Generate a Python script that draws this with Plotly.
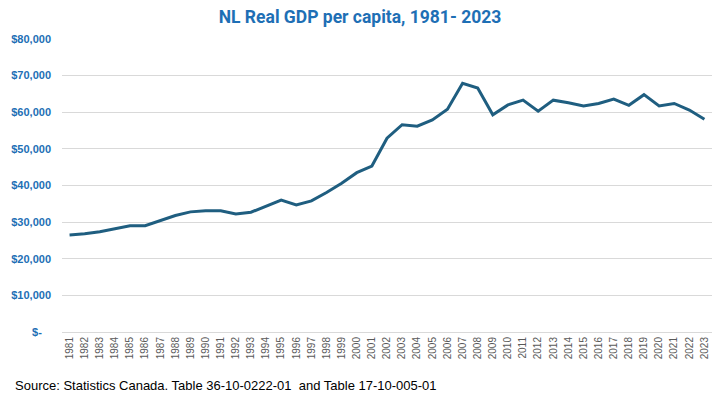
import plotly.graph_objects as go

years = [str(y) for y in range(1981, 2024)]
gdp_per_capita = [
    26500, 26800, 27400, 28200, 29000, 29000, 30300, 31800, 32800, 33100,
    33100, 32200, 32700, 34300, 36000, 34700, 35800, 38100, 40600, 43500,
    45300, 52900, 56600, 56200, 57900, 60800, 67900, 66600, 59300, 62000,
    63300, 60300, 63300, 62600, 61700, 62400, 63600, 61900, 64800, 61700,
    62400, 60600, 58100,
]
y_tick_vals = [0, 10000, 20000, 30000, 40000, 50000, 60000, 70000, 80000]
y_tick_text = ["$-   ", "$10,000", "$20,000", "$30,000", "$40,000",
               "$50,000", "$60,000", "$70,000", "$80,000"]

title_text = "NL Real GDP per capita, 1981- 2023"
source_text = "Source: Statistics Canada. Table 36-10-0222-01  and Table 17-10-005-01"

fig = go.Figure()
fig.add_trace(go.Scatter(
    x=years, y=gdp_per_capita, mode="lines",
    line=dict(color="#1F5E80", width=3),
    hoverinfo="x+y",
))

fig.update_layout(
    width=720, height=405,
    margin=dict(l=62, r=8, t=39, b=73),
    paper_bgcolor="white", plot_bgcolor="white",
    showlegend=False,
    title=dict(text=title_text, x=0.5, xanchor="center", y=0.958, yanchor="middle",
               font=dict(family="Roboto, Arial, sans-serif", size=17.5, color="#1E6FB5",
                         weight="bold")),
    font=dict(family="Liberation Sans, Arial, sans-serif"),
)
fig.update_xaxes(
    type="category", tickangle=-90, range=[-0.5, len(years) - 0.5],
    tickfont=dict(size=10, color="#595959"),
    showgrid=False, showline=True, linecolor="#D9D9D9", linewidth=1,
    ticks="", ticklen=0,
)
fig.update_yaxes(
    range=[0, 80000], tickvals=y_tick_vals, ticktext=y_tick_text,
    tickfont=dict(size=11, color="#1E6FB5", weight="bold"),
    showgrid=True, gridcolor="#D9D9D9", gridwidth=1,
    zeroline=True, zerolinecolor="#D9D9D9", zerolinewidth=1,
    showline=False, ticks="", ticklabelstandoff=10,
)
fig.add_annotation(
    text=source_text, xref="paper", yref="paper", x=-0.076, y=-0.15,
    xanchor="left", yanchor="top", showarrow=False,
    font=dict(size=13, color="#000000", family="Liberation Sans, Arial, sans-serif"),
)

fig.write_html("out.html")
